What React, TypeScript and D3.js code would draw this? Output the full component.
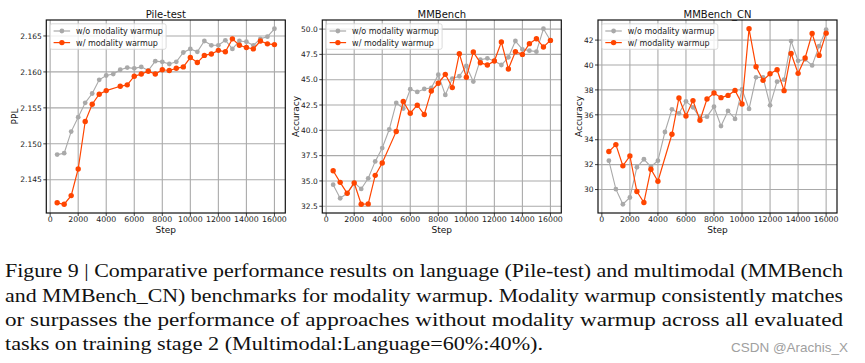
import React, { useEffect } from "react";
import * as d3 from "d3";

// ---- data ----
const stepsWo = [500, 1000, 1500, 2000, 2500, 3000, 3500, 4000, 4500, 5000, 5500, 6000, 6500, 7000, 7500, 8000, 8500, 9000, 9500, 10000, 10500, 11000, 11500, 12000, 12500, 13000, 13500, 14000, 14500, 15000, 15500, 16000];
const stepsW = [500, 1000, 1500, 2000, 2500, 3000, 3500, 4000, 5000, 5500, 6000, 6500, 7000, 7500, 8000, 8500, 9000, 9500, 10000, 10500, 11000, 11500, 12000, 12500, 13000, 13500, 14000, 14500, 15000, 15500, 16000];

const pileWo = [2.1485, 2.1487, 2.1517, 2.1537, 2.1557, 2.157, 2.1589, 2.1595, 2.1597, 2.1603, 2.1606, 2.1605, 2.1607, 2.1602, 2.1615, 2.1614, 2.1611, 2.1614, 2.1627, 2.1632, 2.1628, 2.1643, 2.1637, 2.1637, 2.1644, 2.1632, 2.1643, 2.1642, 2.1637, 2.1646, 2.1649, 2.166];
const pileW = [2.1418, 2.1416, 2.1428, 2.1465, 2.1531, 2.1555, 2.1569, 2.1574, 2.158, 2.1582, 2.1594, 2.1597, 2.1601, 2.1597, 2.1603, 2.1602, 2.1605, 2.1607, 2.162, 2.1613, 2.1623, 2.1625, 2.163, 2.1628, 2.1646, 2.1637, 2.1634, 2.1632, 2.1643, 2.1639, 2.1638];

const mmWo = [34.63, 33.29, 33.78, 34.83, 34.21, 35.26, 36.93, 38.25, 40.08, 42.71, 42.15, 44.06, 43.79, 44.09, 44.19, 45.5, 43.5, 45.11, 45.34, 46.36, 44.81, 46.98, 47.11, 46.85, 46.45, 47.21, 48.82, 48.0, 47.87, 47.77, 50.03, 48.88];
const mmW = [36.01, 34.86, 33.78, 34.8, 32.7, 32.73, 35.55, 36.77, 39.89, 42.84, 41.69, 42.48, 41.56, 43.89, 44.65, 45.53, 44.22, 47.57, 45.24, 47.73, 46.68, 46.45, 46.85, 48.72, 46.06, 47.77, 47.5, 48.56, 49.05, 48.23, 48.88];

const cnWo = [32.32, 30.03, 28.82, 29.36, 31.79, 32.43, 31.84, 32.32, 34.62, 36.44, 36.12, 37.08, 36.6, 35.77, 35.85, 36.65, 35.1, 36.31, 35.67, 38.04, 36.47, 39.01, 39.01, 36.76, 38.66, 38.82, 41.92, 40.34, 40.45, 39.97, 41.52, 42.83];
const cnW = [33.05, 33.61, 31.9, 32.7, 29.84, 28.96, 31.63, 30.67, 34.44, 37.35, 35.91, 37.14, 35.56, 37.27, 37.75, 37.38, 37.56, 37.96, 36.87, 42.91, 39.86, 38.77, 39.3, 39.62, 37.94, 40.93, 39.33, 40.56, 42.53, 40.77, 42.56];

const xTicks = [0, 2000, 4000, 6000, 8000, 10000, 12000, 14000, 16000];
const pileTicks = [2.145, 2.15, 2.155, 2.16, 2.165];
const mmTicks = [32.5, 35.0, 37.5, 40.0, 42.5, 45.0, 47.5, 50.0];
const cnTicks = [30, 32, 34, 36, 38, 40, 42];

const titles = ["Pile-test", "MMBench", "MMBench_CN"];
const yLabels = ["PPL", "Accuracy", "Accuracy"];
const legendLabels = ["w/o modality warmup", "w/ modality warmup"];

const captionLines = [
  "Figure 9 | Comparative performance results on language (Pile-test) and multimodal (MMBench",
  "and MMBench_CN) benchmarks for modality warmup. Modality warmup consistently matches",
  "or surpasses the performance of approaches without modality warmup across all evaluated",
  "tasks on training stage 2 (Multimodal:Language=60%:40%).",
];
const watermark = "CSDN @Arachis_X";

// ---- style ----
const FONT = "DejaVu Sans, sans-serif";
const GRAY = "#a9a9a9";
const ORANGE = "#ff4500";
const TOP = 20;
const BOTTOM = 213;
const W = 239;

type PanelCfg = {
  x0: number;
  title: string;
  ylabel: string;
  ylabelDx: number;
  yTicks: number[];
  fmt: (v: number) => string;
  wo: number[];
  w: number[];
};

const panels: PanelCfg[] = [
  { x0: 46.3, title: titles[0], ylabel: yLabels[0], ylabelDx: -31.3, yTicks: pileTicks, fmt: d3.format(".3f"), wo: pileWo, w: pileW },
  { x0: 322.3, title: titles[1], ylabel: yLabels[1], ylabelDx: -26.4, yTicks: mmTicks, fmt: d3.format(".1f"), wo: mmWo, w: mmW },
  { x0: 598, title: titles[2], ylabel: yLabels[2], ylabelDx: -19.5, yTicks: cnTicks, fmt: d3.format("d"), wo: cnWo, w: cnW },
];

function Panel({ cfg }: { cfg: PanelCfg }) {
  const xExt = d3.extent(stepsWo) as [number, number];
  const xPad = (xExt[1] - xExt[0]) * 0.05;
  const x = d3.scaleLinear().domain([xExt[0] - xPad, xExt[1] + xPad]).range([cfg.x0, cfg.x0 + W]);
  const all = cfg.wo.concat(cfg.w);
  const yExt = d3.extent(all) as [number, number];
  const yPad = (yExt[1] - yExt[0]) * 0.05;
  const y = d3.scaleLinear().domain([yExt[0] - yPad, yExt[1] + yPad]).range([BOTTOM, TOP]);

  const line = d3.line<[number, number]>().x((d) => x(d[0])).y((d) => y(d[1]));
  const woPts: [number, number][] = stepsWo.map((s, i) => [s, cfg.wo[i]]);
  const wPts: [number, number][] = stepsW.map((s, i) => [s, cfg.w[i]]);

  const lx = cfg.x0 + 3.8;
  const ly = TOP + 3.8;
  return (
    <g>
      {/* grid */}
      {xTicks.map((t) => (
        <line key={"gx" + t} x1={x(t)} x2={x(t)} y1={TOP} y2={BOTTOM} stroke="#aaaaaa" strokeWidth={1.1} />
      ))}
      {cfg.yTicks.map((t) => (
        <line key={"gy" + t} x1={cfg.x0} x2={cfg.x0 + W} y1={y(t)} y2={y(t)} stroke="#aaaaaa" strokeWidth={1.1} />
      ))}
      {/* series */}
      <path d={line(woPts) || ""} fill="none" stroke={GRAY} strokeWidth={1.1} />
      {woPts.map((p, i) => (
        <circle key={"a" + i} cx={x(p[0])} cy={y(p[1])} r={2.4} fill={GRAY} />
      ))}
      <path d={line(wPts) || ""} fill="none" stroke={ORANGE} strokeWidth={1.2} />
      {wPts.map((p, i) => (
        <circle key={"b" + i} cx={x(p[0])} cy={y(p[1])} r={2.7} fill={ORANGE} />
      ))}
      {/* frame */}
      <rect x={cfg.x0} y={TOP} width={W} height={BOTTOM - TOP} fill="none" stroke="#111" strokeWidth={1.2} />
      {/* x ticks */}
      {xTicks.map((t) => (
        <g key={"xt" + t}>
          <line x1={x(t)} x2={x(t)} y1={BOTTOM} y2={BOTTOM + 3} stroke="#111" strokeWidth={0.8} />
          <text x={x(t)} y={222.3} fontSize={7.8} fontFamily={FONT} textAnchor="middle" fill="#222">
            {t}
          </text>
        </g>
      ))}
      {/* y ticks */}
      {cfg.yTicks.map((t) => (
        <g key={"yt" + t}>
          <line x1={cfg.x0 - 3} x2={cfg.x0} y1={y(t)} y2={y(t)} stroke="#111" strokeWidth={0.8} />
          <text x={cfg.x0 - 4.5} y={y(t) + 2.7} fontSize={7.5} fontFamily={FONT} textAnchor="end" fill="#222">
            {cfg.fmt(t)}
          </text>
        </g>
      ))}
      {/* labels */}
      <text x={cfg.x0 + W / 2} y={17.5} fontSize={10} fontFamily={FONT} textAnchor="middle" fill="#111">
        {cfg.title}
      </text>
      <text x={cfg.x0 + W / 2} y={232.6} fontSize={9} fontFamily={FONT} textAnchor="middle" fill="#111">
        Step
      </text>
      <text
        transform={`translate(${cfg.x0 + cfg.ylabelDx},${(TOP + BOTTOM) / 2}) rotate(-90)`}
        fontSize={9}
        fontFamily={FONT}
        textAnchor="middle"
        dy="0.35em"
        fill="#111"
      >
        {cfg.ylabel}
      </text>
      {/* legend */}
      <rect x={lx} y={ly} width={116} height={25.5} rx={2} fill="#fff" fillOpacity={0.8} stroke="#d0d0d0" strokeWidth={0.8} />
      {[GRAY, ORANGE].map((c, i) => (
        <g key={"lg" + i}>
          <line x1={lx + 3.5} x2={lx + 20} y1={ly + 7.2 + i * 11.6} y2={ly + 7.2 + i * 11.6} stroke={c} strokeWidth={1.2} />
          <circle cx={lx + 11.8} cy={ly + 7.2 + i * 11.6} r={i === 0 ? 2.4 : 2.7} fill={c} />
          <text x={lx + 26} y={ly + 7.2 + i * 11.6 + 2.9} fontSize={8} fontFamily={FONT} fill="#222">
            {legendLabels[i]}
          </text>
        </g>
      ))}
    </g>
  );
}

export default function App() {
  useEffect(() => {
    document.body.style.margin = "0";
  }, []);
  const capY = [277.3, 301.8, 326.2, 350.4];
  return (
    <svg width={865} height={363} style={{ display: "block", position: "absolute", left: 0, top: 0, background: "#fff" }}>
      <rect x={0} y={0} width={865} height={363} fill="#fff" />
      {panels.map((p, i) => (
        <Panel key={i} cfg={p} />
      ))}
      {captionLines.map((l, i) => (
        <text
          key={"c" + i}
          x={5}
          y={capY[i]}
          fontSize={19}
          fontFamily="Liberation Serif, serif"
          fill="#111"
          textLength={i < 3 ? 838 : 538}
          lengthAdjust="spacingAndGlyphs"
        >
          {l}
        </text>
      ))}
      <text x={731} y={351.5} fontSize={13.5} fontFamily="Liberation Sans, Arial, sans-serif" fill="#a0a0a0" textLength={117} lengthAdjust="spacingAndGlyphs">
        {watermark}
      </text>
    </svg>
  );
}
